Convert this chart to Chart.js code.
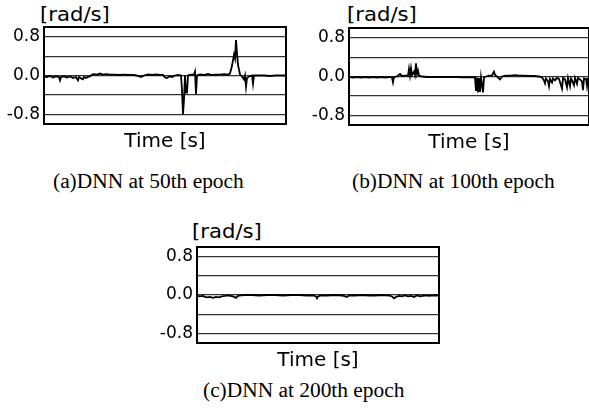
<!DOCTYPE html>
<html>
<head>
<meta charset="utf-8">
<script src="https://cdn.jsdelivr.net/npm/chart.js@4.4.1/dist/chart.umd.min.js"></script>
<style>
  body { margin: 0; background: #fff; width: 589px; height: 412px; position: relative; overflow: hidden; }
  canvas { position: absolute; }
  .unit { position: absolute; font: 20px 'DejaVu Sans'; line-height: 1; color: #000; white-space: nowrap; transform: scaleX(1.06); transform-origin: left top; }
  .cap { position: absolute; font: 20px 'Liberation Serif'; line-height: 1; color: #000; white-space: nowrap; transform: scaleX(1.07); transform-origin: left top; }
</style>
</head>
<body>
<div class="unit" style="left:40px;top:4px">[rad/s]</div>
<div class="unit" style="left:347px;top:4px">[rad/s]</div>
<div class="unit" style="left:192px;top:221px">[rad/s]</div>
<canvas id="chartA" width="295" height="129" style="left:0;top:25px"></canvas>
<canvas id="chartB" width="284" height="129" style="left:305px;top:26px"></canvas>
<canvas id="chartC" width="295" height="128" style="left:153px;top:245px"></canvas>
<div class="cap" style="left:53px;top:171px">(a)DNN at 50th epoch</div>
<div class="cap" style="left:352px;top:171px">(b)DNN at 100th epoch</div>
<div class="cap" style="left:203px;top:380px">(c)DNN at 200th epoch</div>
<script>
'use strict';

// y axis: grid at every 0.4, labels only on the outer lines and zero
var yTicks = [-0.8, -0.4, 0.0, 0.4, 0.8];
var yLabelled = [-0.8, 0.0, 0.8];

// (a) 50th epoch
var timeA = [0, 3, 6, 9, 12, 15, 16, 17, 20, 23, 26, 29, 32, 34, 35, 37, 39, 40, 42, 44, 46, 48, 50, 53, 56, 59, 62, 66, 70, 75, 80, 85, 90, 94, 97, 100, 104, 108, 112, 116, 119, 121, 123, 125, 128, 131, 134, 137, 138, 139, 140, 141, 142, 143, 144, 147, 150, 151, 152, 153, 156, 160, 164, 168, 172, 176, 180, 184, 186, 188, 190, 191, 192, 193, 194, 196, 198, 200, 201, 202, 203, 205, 208, 209, 210, 214, 220, 226, 232, 238, 242];
var rateA = [-0.02, -0.03, -0.01, -0.04, -0.02, -0.03, -0.10, -0.03, -0.02, -0.04, -0.02, -0.05, -0.03, -0.10, -0.03, -0.06, -0.08, -0.03, -0.05, -0.03, -0.02, 0.02, 0.03, 0.02, 0.04, 0.02, 0.03, 0.02, 0.02, 0.01, 0.02, 0.01, 0.01, -0.01, -0.03, 0.00, 0.02, 0.01, 0.02, 0.01, 0.01, -0.04, -0.05, -0.02, -0.03, 0.00, 0.01, 0.00, -0.30, -0.80, -0.50, 0.00, -0.35, -0.35, 0.00, 0.02, 0.02, 0.08, -0.38, 0.00, 0.02, 0.01, 0.03, 0.01, 0.02, 0.02, 0.03, 0.02, 0.04, 0.20, 0.43, 0.35, 0.73, 0.45, 0.22, 0.02, -0.02, -0.08, 0.00, -0.23, -0.05, -0.02, 0.00, -0.17, 0.00, 0.00, 0.00, -0.01, 0.00, 0.00, 0.00];

// (b) 100th epoch
var timeB = [0, 4, 8, 12, 16, 20, 24, 28, 32, 36, 40, 43, 44, 45, 48, 51, 53, 56, 59, 60, 61, 62, 63, 65, 66, 67, 68, 69, 70, 73, 78, 84, 90, 96, 102, 108, 114, 118, 122, 126, 127, 128, 129, 130, 131, 132, 134, 135, 137, 140, 143, 145, 146, 148, 151, 153, 157, 162, 166, 170, 175, 180, 185, 190, 193, 195, 196, 197, 199, 200, 201, 203, 204, 206, 208, 210, 212, 213, 214, 216, 218, 219, 221, 222, 223, 225, 226, 228, 229, 231, 233, 234, 235, 237, 238, 239, 240];
var rateB = [-0.01, -0.02, -0.01, -0.02, -0.01, -0.02, -0.01, -0.02, -0.01, -0.02, -0.01, -0.02, -0.12, -0.01, 0.00, 0.05, 0.01, 0.02, 0.02, 0.16, 0.02, 0.17, 0.03, 0.10, 0.03, 0.27, 0.05, 0.12, 0.02, 0.00, -0.01, -0.01, -0.01, -0.01, -0.01, -0.01, -0.02, -0.01, -0.02, -0.02, -0.30, -0.02, -0.33, -0.03, -0.32, -0.02, -0.33, -0.02, 0.00, 0.02, 0.02, 0.10, 0.03, 0.00, -0.06, 0.00, 0.02, 0.02, 0.03, 0.02, 0.02, 0.01, 0.01, 0.00, -0.02, -0.08, -0.14, -0.04, -0.10, -0.20, -0.05, -0.12, -0.04, -0.08, -0.03, -0.05, -0.18, -0.25, -0.03, -0.06, -0.22, -0.03, -0.20, -0.04, -0.08, -0.18, -0.03, -0.15, -0.03, -0.06, -0.10, -0.28, -0.04, -0.05, -0.20, -0.04, -0.02];

// (c) 200th epoch
var timeC = [0, 3, 6, 8, 10, 13, 16, 19, 22, 25, 28, 30, 33, 36, 39, 41, 44, 48, 55, 62, 70, 78, 86, 94, 102, 110, 116, 119, 120, 121, 124, 130, 138, 145, 150, 152, 158, 165, 172, 178, 185, 192, 195, 197, 199, 202, 205, 208, 211, 214, 217, 220, 223, 226, 229, 232, 236, 240, 242];
var rateC = [-0.02, -0.03, -0.02, -0.04, -0.05, -0.04, -0.06, -0.04, -0.05, -0.03, -0.02, -0.01, -0.02, -0.03, -0.06, -0.02, -0.01, 0.00, 0.00, -0.01, 0.00, 0.00, -0.01, 0.00, 0.00, -0.01, -0.01, -0.03, -0.07, -0.03, -0.01, -0.01, 0.00, -0.01, -0.04, -0.01, -0.01, 0.00, -0.01, -0.01, 0.00, -0.01, -0.03, -0.07, -0.04, -0.02, -0.03, -0.01, -0.03, -0.02, -0.04, -0.01, -0.03, -0.02, -0.01, -0.02, -0.01, -0.01, -0.01];

// box round the plot area
var frame = {
    id: 'frame',
    afterDraw: function (chart) {
        var a = chart.chartArea, ctx = chart.ctx;
        ctx.save();
        ctx.strokeStyle = '#000';
        ctx.lineWidth = 2;
        ctx.strokeRect(a.left, a.top, a.right - a.left, a.bottom - a.top);
        ctx.restore();
    }
};

function makeChart(id, times, rates, xMax, pad) {
    var points = times.map(function (t, i) { return { x: t, y: rates[i] }; });
    return new Chart(document.getElementById(id), {
        type: 'line',
        data: {
            datasets: [{
                data: points,
                borderColor: '#000',
                borderWidth: 1.8,
                pointRadius: 0,
                tension: 0
            }]
        },
        options: {
            responsive: false,
            animation: false,
            layout: { padding: pad },
            plugins: { legend: { display: false }, tooltip: { enabled: false } },
            scales: {
                x: {
                    type: 'linear',
                    min: 0,
                    max: xMax,
                    grid: { display: false },
                    border: { display: false },
                    ticks: { display: false },
                    title: {
                        display: true,
                        text: 'Time [s]',
                        color: '#000',
                        font: { family: 'DejaVu Sans', size: 20 },
                        padding: { top: 0, bottom: 0 }
                    },
                    afterFit: function (scale) { scale.height = 30; }
                },
                y: {
                    min: -1,
                    max: 1,
                    afterBuildTicks: function (scale) {
                        scale.ticks = yTicks.map(function (v) { return { value: v }; });
                    },
                    grid: { color: '#333', lineWidth: 1.2, drawTicks: false },
                    border: { display: false },
                    ticks: {
                        color: '#000',
                        padding: 4,
                        autoSkip: false,
                        font: { family: 'DejaVu Sans', size: 17 },
                        callback: function (v) {
                            return yLabelled.indexOf(v) >= 0 ? v.toFixed(1) : '';
                        }
                    },
                    afterFit: function (scale) {
                        scale.width = 44;
                        scale.paddingTop = 0;
                        scale.paddingBottom = 0;
                    }
                }
            }
        },
        plugins: [frame]
    });
}

makeChart('chartA', timeA, rateA, 242, { left: 0, right: 9, top: 2, bottom: 0 });
makeChart('chartB', timeB, rateB, 240, { left: 0, right: 0, top: 2, bottom: 0 });
makeChart('chartC', timeC, rateC, 242, { left: 0, right: 9, top: 2, bottom: 0 });
</script>
</body>
</html>
